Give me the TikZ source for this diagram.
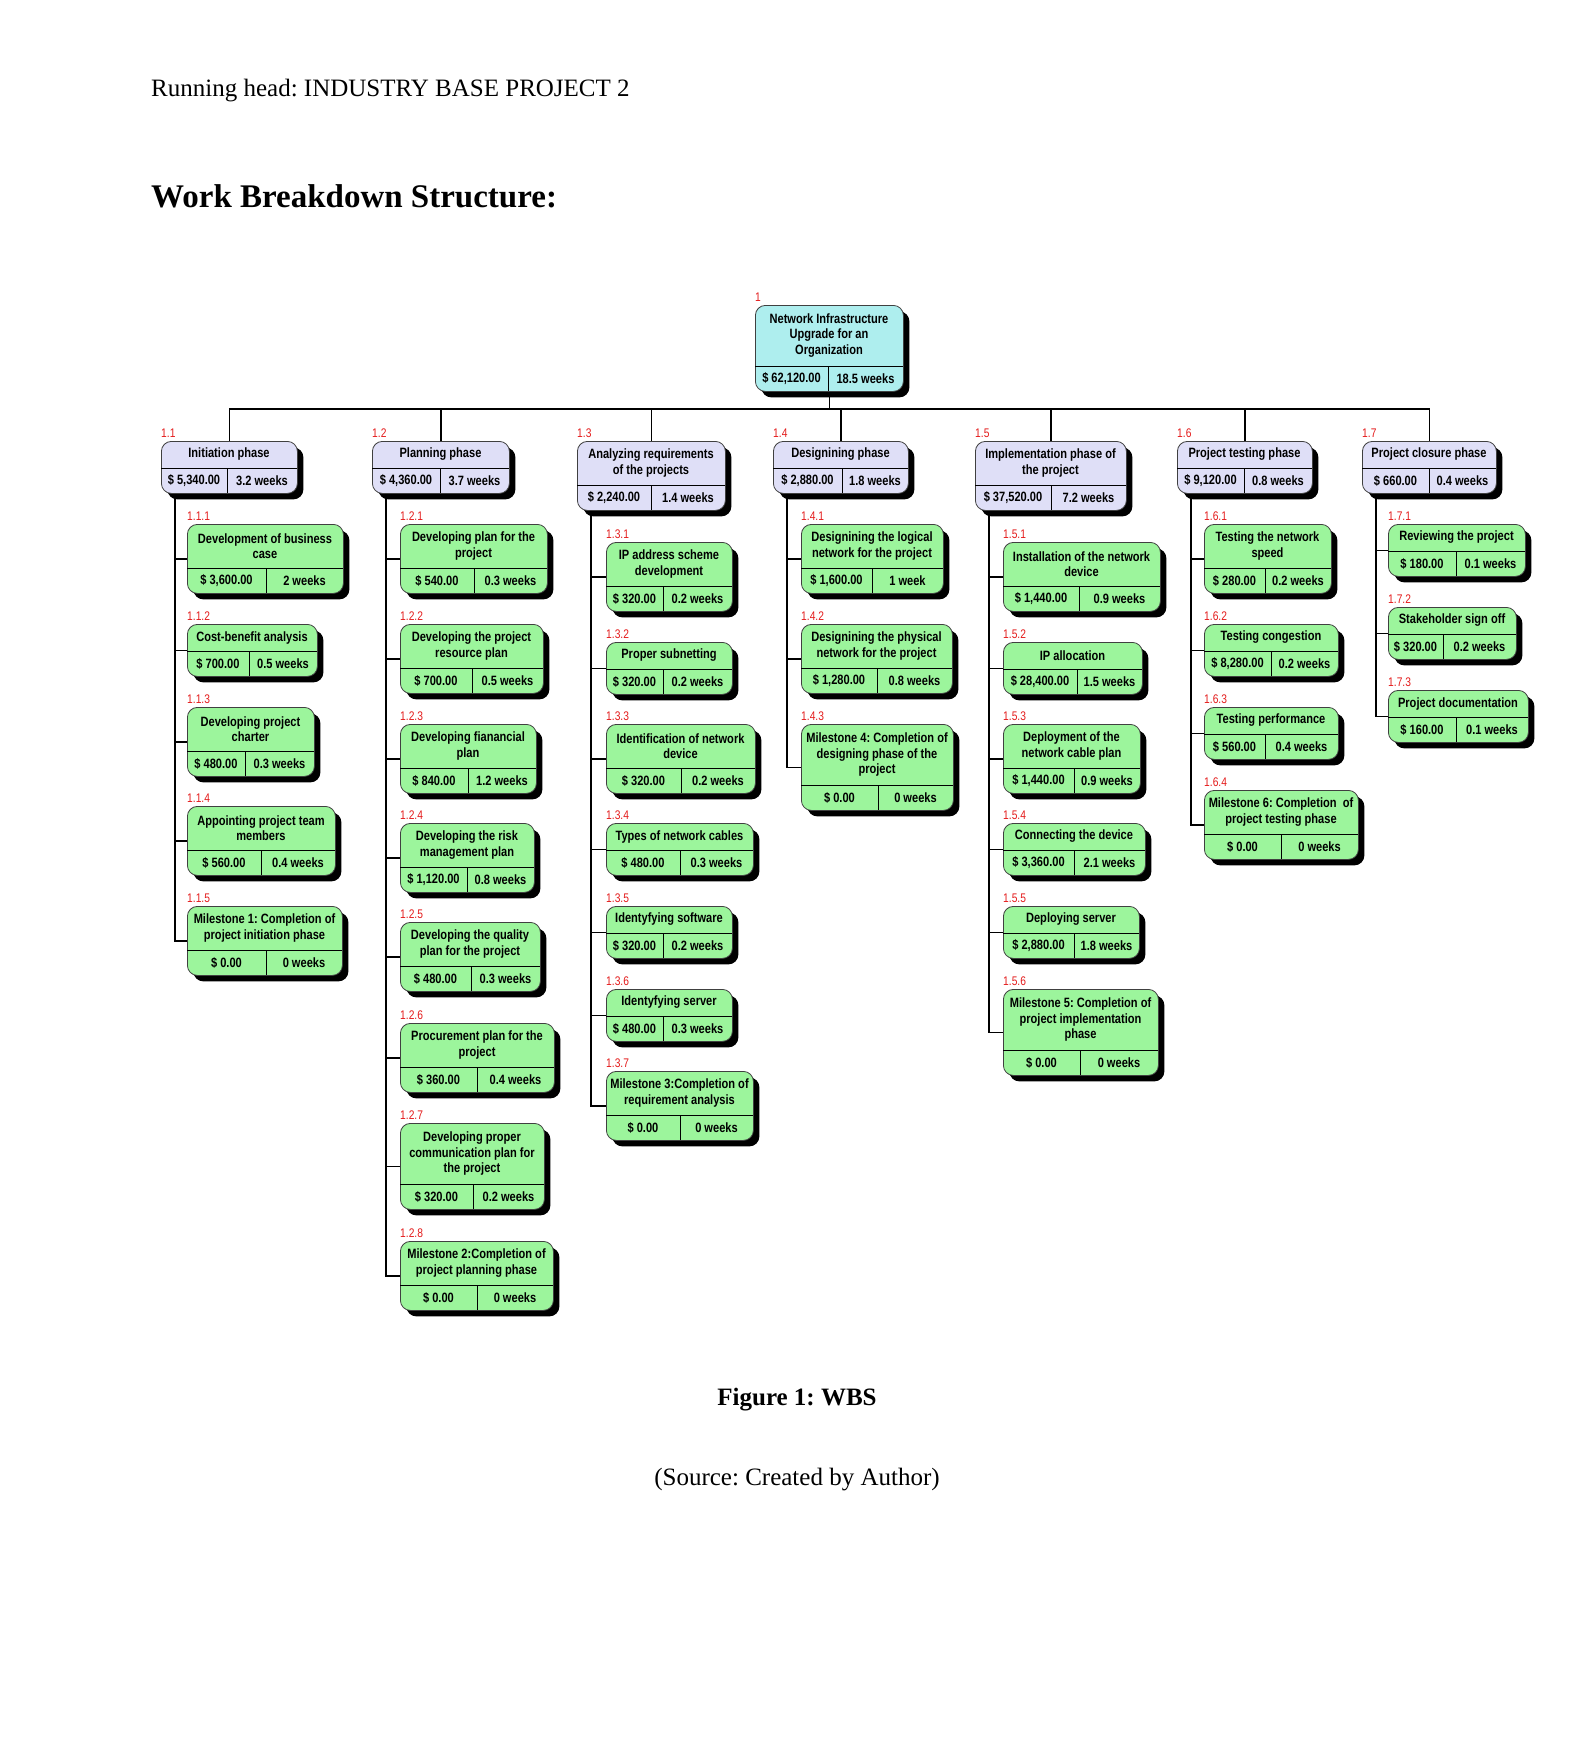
\documentclass[tikz,border=0pt]{standalone}
\usepackage{fontspec}
\setmainfont{Liberation Serif}
\newfontfamily\nsans[FakeStretch=0.82]{Liberation Sans}
\usetikzlibrary{shadows,calc}
\definecolor{rootfill}{HTML}{AEEEEE}
\definecolor{phasefill}{HTML}{DFDFF7}
\definecolor{taskfill}{HTML}{9CF59C}
\definecolor{lblred}{HTML}{E41B1B}
\pgfdeclarelayer{bg}
\pgfsetlayers{bg,main}
\frenchspacing
\tikzset{
  wbsbox/.style={draw=black!75, line width=0.8pt, rounded corners=10pt, inner sep=0pt, anchor=north west,
    drop shadow={shadow xshift=6pt, shadow yshift=-6pt, fill=black, opacity=1}},
  boxtext/.style={font=\nsans\bfseries\fontsize{13.5}{15.5}\selectfont, align=center, inner sep=0pt},
  wbslabel/.style={font=\nsans\fontsize{12.5}{12.5}\selectfont, text=lblred, anchor=base west, inner sep=0pt},
  divline/.style={line width=0.9pt},
  conn/.style={line width=1.4pt},
  pagetext/.style={font=\fontsize{25}{30}\selectfont, inner sep=0pt},
}
\def\wbsparse#1/#2/#3/#4/#5\relax{\def\wbsX{#1}\def\wbsY{#2}\def\wbsR{#3}\def\wbsD{#4}\def\wbsN{#5}}
\newcommand\wbs[7]{%
  \wbsparse#3\relax
  \pgfmathsetmacro\wbsH{35+17*\wbsN}%
  \pgfmathsetmacro\wbsW{\wbsR-\wbsX}%
  \pgfmathsetmacro\wbsDY{\wbsY+\wbsH-25}%
  \pgfmathsetmacro\wbsB{\wbsY+\wbsH}%
  \node[wbsbox, fill=#4, minimum width=\wbsW pt, minimum height=\wbsH pt] (#1) at (\wbsX,\wbsY) {};
  \draw[divline] (\wbsX,\wbsDY) -- (\wbsR,\wbsDY);
  \draw[divline] (\wbsD,\wbsDY) -- (\wbsD,\wbsB);
  \node[boxtext] (#1t) at ({(\wbsX+\wbsR)/2},{(\wbsY+\wbsDY)/2}) {#5};
  \node[boxtext] (#1c) at ({(\wbsX+\wbsD)/2},{\wbsDY+12.5}) {#6};
  \node[boxtext] (#1d) at ({(\wbsD+\wbsR)/2},{\wbsDY+12.5}) {#7};
  \node[wbslabel] (#1l) at (\wbsX,\wbsY-4) {#2};
}
\begin{document}
\begin{tikzpicture}[x=1pt,y=-1pt]
\useasboundingbox (0,0) rectangle (1595,1754);

\node[pagetext, anchor=base west] (rh) at (151,96) {Running head: INDUSTRY BASE PROJECT 2};
\node[font=\bfseries\fontsize{33}{40}\selectfont, anchor=base west, inner sep=0pt] (ttl) at (151,207) {Work Breakdown Structure:};
\node[font=\bfseries\fontsize{25}{30}\selectfont, anchor=base, inner sep=0pt] (fig) at (797,1405) {Figure 1: WBS};
\node[pagetext, anchor=base] (src) at (797,1485) {(Source: Created by Author)};

% root
\wbs{r}{1}{755/305/903/828/3}{rootfill}{Network Infrastructure\\Upgrade for an\\Organization}{\$ 62,120.00}{18.5 weeks}

% level 1
\wbs{b11}{1.1}{161/441/297/227/1}{phasefill}{Initiation phase}{\$ 5,340.00}{3.2 weeks}
\wbs{b12}{1.2}{372/441/509/440/1}{phasefill}{Planning phase}{\$ 4,360.00}{3.7 weeks}
\wbs{b13}{1.3}{577/441/725/651/2}{phasefill}{Analyzing requirements\\of the projects}{\$ 2,240.00}{1.4 weeks}
\wbs{b14}{1.4}{773/441/908/842/1}{phasefill}{Designining phase}{\$ 2,880.00}{1.8 weeks}
\wbs{b15}{1.5}{975/441/1126/1051/2}{phasefill}{Implementation phase of\\the project}{\$ 37,520.00}{7.2 weeks}
\wbs{b16}{1.6}{1177/441/1312/1244/1}{phasefill}{Project testing phase}{\$ 9,120.00}{0.8 weeks}
\wbs{b17}{1.7}{1362/441/1496/1429/1}{phasefill}{Project closure phase}{\$ 660.00}{0.4 weeks}

% 1.1.x
\wbs{c111}{1.1.1}{187/524/343/266/2}{taskfill}{Development of business\\case}{\$ 3,600.00}{2 weeks}
\wbs{c112}{1.1.2}{187/624/317/249/1}{taskfill}{Cost-benefit analysis}{\$ 700.00}{0.5 weeks}
\wbs{c113}{1.1.3}{187/707/314/245/2}{taskfill}{Developing project\\charter}{\$ 480.00}{0.3 weeks}
\wbs{c114}{1.1.4}{187/806/335/261/2}{taskfill}{Appointing project team\\members}{\$ 560.00}{0.4 weeks}
\wbs{c115}{1.1.5}{187/906/342/266/2}{taskfill}{Milestone 1: Completion of\\project initiation phase}{\$ 0.00}{0 weeks}

% 1.2.x
\wbs{c121}{1.2.1}{400/524/547/474/2}{taskfill}{Developing plan for the\\project}{\$ 540.00}{0.3 weeks}
\wbs{c122}{1.2.2}{400/624/543/472/2}{taskfill}{Developing the project\\resource plan}{\$ 700.00}{0.5 weeks}
\wbs{c123}{1.2.3}{400/724/536/468/2}{taskfill}{Developing fianancial\\plan}{\$ 840.00}{1.2 weeks}
\wbs{c124}{1.2.4}{400/823/534/467/2}{taskfill}{Developing the risk\\management plan}{\$ 1,120.00}{0.8 weeks}
\wbs{c125}{1.2.5}{400/922/540/471/2}{taskfill}{Developing the quality\\plan for the project}{\$ 480.00}{0.3 weeks}
\wbs{c126}{1.2.6}{400/1023/554/477/2}{taskfill}{Procurement plan for the\\project}{\$ 360.00}{0.4 weeks}
\wbs{c127}{1.2.7}{400/1123/544/473/3}{taskfill}{Developing proper\\communication plan for\\the project}{\$ 320.00}{0.2 weeks}
\wbs{c128}{1.2.8}{400/1241/553/477/2}{taskfill}{Milestone 2:Completion of\\project planning phase}{\$ 0.00}{0 weeks}

% 1.3.x
\wbs{c131}{1.3.1}{606/542/732/663/2}{taskfill}{IP address scheme\\development}{\$ 320.00}{0.2 weeks}
\wbs{c132}{1.3.2}{606/642/732/663/1}{taskfill}{Proper subnetting}{\$ 320.00}{0.2 weeks}
\wbs{c133}{1.3.3}{606/724/755/681/2}{taskfill}{Identification of network\\device}{\$ 320.00}{0.2 weeks}
\wbs{c134}{1.3.4}{606/823/753/680/1}{taskfill}{Types of network cables}{\$ 480.00}{0.3 weeks}
\wbs{c135}{1.3.5}{606/906/732/663/1}{taskfill}{Identyfying software}{\$ 320.00}{0.2 weeks}
\wbs{c136}{1.3.6}{606/989/732/663/1}{taskfill}{Identyfying server}{\$ 480.00}{0.3 weeks}
\wbs{c137}{1.3.7}{606/1071/753/680/2}{taskfill}{Milestone 3:Completion of\\requirement analysis}{\$ 0.00}{0 weeks}

% 1.4.x
\wbs{c141}{1.4.1}{801/524/943/872/2}{taskfill}{Designining the logical\\network for the project}{\$ 1,600.00}{1 week}
\wbs{c142}{1.4.2}{801/624/952/877/2}{taskfill}{Designining the physical\\network for the project}{\$ 1,280.00}{0.8 weeks}
\wbs{c143}{1.4.3}{801/724/953/878/3}{taskfill}{Milestone 4: Completion of\\designing phase of the\\project}{\$ 0.00}{0 weeks}

% 1.5.x
\wbs{c151}{1.5.1}{1003/542/1160/1079/2}{taskfill}{Installation of the network\\device}{\$ 1,440.00}{0.9 weeks}
\wbs{c152}{1.5.2}{1003/642/1142/1077/1}{taskfill}{IP allocation}{\$ 28,400.00}{1.5 weeks}
\wbs{c153}{1.5.3}{1003/724/1140/1074/2}{taskfill}{Deployment of the\\network cable plan}{\$ 1,440.00}{0.9 weeks}
\wbs{c154}{1.5.4}{1003/823/1145/1074/1}{taskfill}{Connecting the device}{\$ 3,360.00}{2.1 weeks}
\wbs{c155}{1.5.5}{1003/906/1139/1074/1}{taskfill}{Deploying server}{\$ 2,880.00}{1.8 weeks}
\wbs{c156}{1.5.6}{1003/989/1158/1080/3}{taskfill}{Milestone 5: Completion of\\project implementation\\phase}{\$ 0.00}{0 weeks}

% 1.6.x
\wbs{c161}{1.6.1}{1204/524/1331/1265/2}{taskfill}{Testing the network\\speed}{\$ 280.00}{0.2 weeks}
\wbs{c162}{1.6.2}{1204/624/1338/1271/1}{taskfill}{Testing congestion}{\$ 8,280.00}{0.2 weeks}
\wbs{c163}{1.6.3}{1204/707/1338/1265/1}{taskfill}{Testing performance}{\$ 560.00}{0.4 weeks}
\wbs{c164}{1.6.4}{1204/790/1358/1281/2}{taskfill}{Milestone 6: Completion~ of\\project testing phase}{\$ 0.00}{0 weeks}

% 1.7.x
\wbs{c171}{1.7.1}{1388/524/1525/1456/1}{taskfill}{Reviewing the project}{\$ 180.00}{0.1 weeks}
\wbs{c172}{1.7.2}{1388/607/1516/1443/1}{taskfill}{Stakeholder sign off}{\$ 320.00}{0.2 weeks}
\wbs{c173}{1.7.3}{1388/690/1528/1456/1}{taskfill}{Project documentation}{\$ 160.00}{0.1 weeks}

\begin{pgfonlayer}{bg}
  \fill[white] (0,0) rectangle (1595,1754);
  \foreach \b in {b11,b12,b13,b14,b15,b16,b17}
    \draw[conn] (r.south) -- ++(0,17) -| (\b.north);
  \foreach \p/\cs in {b11/{c111,c112,c113,c114,c115},
                      b12/{c121,c122,c123,c124,c125,c126,c127,c128},
                      b13/{c131,c132,c133,c134,c135,c136,c137},
                      b14/{c141,c142,c143},
                      b15/{c151,c152,c153,c154,c155,c156},
                      b16/{c161,c162,c163,c164},
                      b17/{c171,c172,c173}}{
    \coordinate (\p trunk) at ($(\p.south west)+(14,0)$);
    \foreach \c in \cs
      \draw[conn] (\p trunk) |- (\c.west);
  }
\end{pgfonlayer}
\end{tikzpicture}
\end{document}
